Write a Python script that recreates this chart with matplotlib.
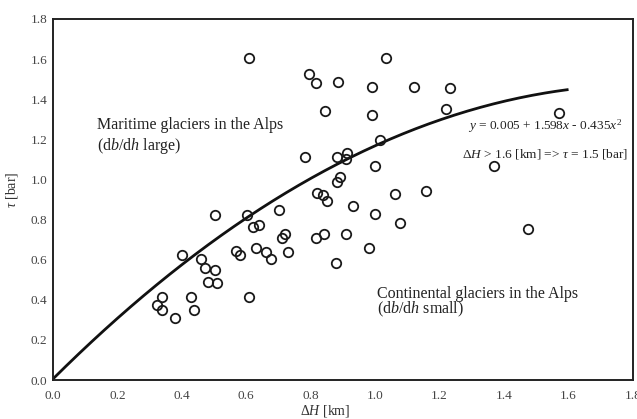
import numpy as np
import matplotlib
matplotlib.use("Agg")
import matplotlib.pyplot as plt

# observed glaciers: height range dH [km] vs basal shear stress tau [bar]
dh_km = [
    0.608, 0.794, 0.815, 0.884, 0.843, 0.783, 0.881, 0.912, 0.911, 0.890,
    0.883, 0.818, 0.838, 0.850, 0.931, 0.703, 1.035, 0.990, 1.120, 1.231,
    0.990, 1.219, 1.014, 0.998, 1.368, 1.061, 1.159, 0.998, 1.078, 0.981,
    1.570, 1.475, 0.719, 0.712, 0.817, 0.840, 0.911, 0.880, 0.731, 0.678,
    0.502, 0.602, 0.621, 0.641, 0.401, 0.460, 0.473, 0.502, 0.481, 0.510,
    0.569, 0.581, 0.631, 0.660, 0.338, 0.322, 0.339, 0.380, 0.429, 0.439,
    0.610,
]
tau_bar = [
    1.605, 1.525, 1.480, 1.485, 1.343, 1.112, 1.111, 1.131, 1.101, 1.011,
    0.989, 0.931, 0.923, 0.893, 0.869, 0.850, 1.605, 1.463, 1.463, 1.455,
    1.320, 1.350, 1.197, 1.067, 1.067, 0.926, 0.944, 0.826, 0.785, 0.660,
    1.330, 0.753, 0.728, 0.707, 0.707, 0.728, 0.728, 0.582, 0.640, 0.602,
    0.823, 0.823, 0.765, 0.773, 0.623, 0.602, 0.557, 0.549, 0.490, 0.482,
    0.645, 0.623, 0.657, 0.640, 0.415, 0.374, 0.349, 0.308, 0.415, 0.349,
    0.415,
]

# fitted curve coefficients (as printed on the chart)
fit_c0, fit_c1, fit_c2 = 0.005, 1.598, -0.435
fit_xmax = 1.6

ticks = [0.0, 0.2, 0.4, 0.6, 0.8, 1.0, 1.2, 1.4, 1.6, 1.8]


def main():
    plt.rcParams["font.family"] = ["Liberation Serif", "DejaVu Serif"]
    plt.rcParams["mathtext.fontset"] = "custom"
    plt.rcParams["mathtext.rm"] = "Liberation Serif"
    plt.rcParams["mathtext.it"] = "Liberation Serif:italic"

    fig = plt.figure(figsize=(6.37, 4.19), dpi=100)
    ax = fig.add_axes([0.083, 0.093, 0.9107, 0.8617])

    xs = np.linspace(0, fit_xmax, 200)
    ax.plot(xs, fit_c0 + fit_c1 * xs + fit_c2 * xs ** 2, color="#111111", lw=2.0,
            solid_capstyle="butt", zorder=2)
    ax.plot(dh_km, tau_bar, ls="none", marker="o", ms=6.8, mfc="none",
            mec="#1a1a1a", mew=1.3, zorder=3)

    ax.set_xlim(0, 1.8)
    ax.set_ylim(0, 1.8)
    ax.set_xticks(ticks)
    ax.set_yticks(ticks)
    ax.set_xticklabels([f"{t:.1f}" for t in ticks])
    ax.set_yticklabels([f"{t:.1f}" for t in ticks])
    ax.tick_params(length=0, labelsize=9.5, colors="#444444")
    ax.tick_params(axis="x", pad=7)
    ax.tick_params(axis="y", pad=4)
    for s in ax.spines.values():
        s.set_linewidth(1.4)
        s.set_color("#222222")

    ax.set_xlabel(r"$\Delta H$ [km]", fontsize=10, color="#333333")
    ax.xaxis.set_label_coords(0.469, -0.064)
    ax.set_ylabel(r"$\tau$ [bar]", fontsize=10, color="#333333")
    ax.yaxis.set_label_coords(-0.057, 0.526)

    ax.text(0.138, 1.214, "Maritime glaciers in the Alps\n" r"(d$b$/d$h$ large)",
            fontsize=11.5, va="center", linespacing=1.25, color="#222222")
    ax.text(1.006, 0.386, "Continental glaciers in the Alps\n" r"(d$b$/d$h$ small)",
            fontsize=11.5, va="center", linespacing=0.85, color="#222222")

    ax.text(1.527, 1.264, r"$y$ = 0.005 + 1.598$x$ - 0.435$x^2$", fontsize=9.6,
            ha="center", va="center", color="#222222")
    ax.text(1.527, 1.129, r"$\Delta H$ > 1.6 [km] => $\tau$ = 1.5 [bar]",
            fontsize=9.6, ha="center", va="center", color="#222222")

    fig.savefig("out.png", dpi=100)


if __name__ == "__main__":
    main()
